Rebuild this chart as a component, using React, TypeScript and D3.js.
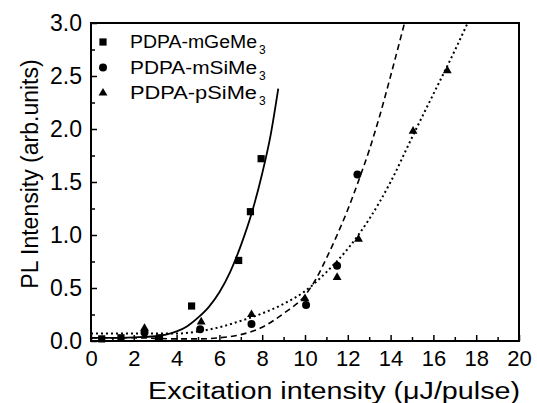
import React, { useRef, useEffect } from "react";
import * as d3 from "d3";

// measured points
const geX = [0.5, 1.4, 3.2, 4.7, 6.9, 7.45, 7.95];
const geY = [0.02, 0.03, 0.03, 0.33, 0.76, 1.22, 1.72];
const mSiX = [2.5, 5.1, 7.5, 10.05, 11.5, 12.45];
const mSiY = [0.08, 0.11, 0.16, 0.34, 0.71, 1.57];
const pSiX = [2.5, 5.15, 7.5, 10.0, 11.5, 12.5, 15.05, 16.65];
const pSiY = [0.12, 0.18, 0.25, 0.4, 0.6, 0.96, 1.98, 2.55];

// fitted curves
const fitGeX = [0, 1, 2, 3, 3.5, 4, 4.5, 5, 5.5, 6, 6.5, 7, 7.5, 8, 8.4, 8.75];
const fitGeY = [0.03, 0.03, 0.035, 0.045, 0.06, 0.09, 0.14, 0.22, 0.32, 0.46, 0.65, 0.9, 1.2, 1.58, 1.95, 2.38];
const fitMSiX = [0, 2, 4, 5, 6, 7, 8, 9, 10, 10.5, 11, 11.5, 12, 12.5, 13, 13.5, 14, 14.65];
const fitMSiY = [0.03, 0.03, 0.02, 0.02, 0.03, 0.06, 0.13, 0.26, 0.43, 0.58, 0.78, 1.0, 1.24, 1.51, 1.8, 2.13, 2.5, 3.0];
const fitPSiX = [0, 2, 4, 5, 6, 7, 8, 9, 10, 11, 12, 13, 14, 15, 16, 17, 17.6];
const fitPSiY = [0.07, 0.07, 0.07, 0.09, 0.13, 0.19, 0.26, 0.35, 0.47, 0.65, 0.87, 1.15, 1.5, 1.92, 2.33, 2.74, 3.0];

const xTicks = [0, 2, 4, 6, 8, 10, 12, 14, 16, 18, 20];
const yTicks = [0.0, 0.5, 1.0, 1.5, 2.0, 2.5, 3.0];
const legendNames = ["PDPA-mGeMe", "PDPA-mSiMe", "PDPA-pSiMe"];

function App() {
  const svgRef = useRef<SVGSVGElement>(null);

  useEffect(() => {
    const svg = d3.select(svgRef.current);
    svg.selectAll("*").remove();
    const font = "'Liberation Sans', Arial, sans-serif";

    const x = d3.scaleLinear().domain([0, 20]).range([91, 519]);
    const y = d3.scaleLinear().domain([0, 3]).range([341, 23]);

    // frame
    svg.append("rect")
      .attr("x", x(0)).attr("y", y(3))
      .attr("width", x(20) - x(0)).attr("height", y(0) - y(3))
      .attr("fill", "none").attr("stroke", "#000").attr("stroke-width", 2);

    // x axis, ticks inward
    const xAx = svg.append("g").attr("transform", `translate(0,${y(0)})`)
      .call(d3.axisBottom(x).tickValues(xTicks).tickSize(-6).tickPadding(9).tickFormat(d3.format("d")));
    xAx.select(".domain").remove();
    xAx.selectAll("line").attr("stroke-width", 1.5);
    xAx.selectAll("text").attr("font-family", font).attr("font-size", 22).attr("fill", "#000");
    svg.append("g").attr("transform", `translate(0,${y(0)})`)
      .call(d3.axisBottom(x).tickValues(d3.range(1, 20, 2)).tickSize(-4).tickFormat(() => ""))
      .call(g => g.select(".domain").remove())
      .selectAll("line").attr("stroke-width", 1.5);

    const yAx = svg.append("g").attr("transform", `translate(${x(0)},0)`)
      .call(d3.axisLeft(y).tickValues(yTicks).tickSize(-6).tickPadding(9).tickFormat(d3.format(".1f")));
    yAx.select(".domain").remove();
    yAx.selectAll("line").attr("stroke-width", 1.5);
    yAx.selectAll("text").attr("font-family", font).attr("font-size", 23).attr("fill", "#000");
    svg.append("g").attr("transform", `translate(${x(0)},0)`)
      .call(d3.axisLeft(y).tickValues(d3.range(0.25, 3, 0.5)).tickSize(-4).tickFormat(() => ""))
      .call(g => g.select(".domain").remove())
      .selectAll("line").attr("stroke-width", 1.5);

    // titles
    svg.append("text")
      .attr("x", 148).attr("y", 399)
      .attr("textLength", 372).attr("lengthAdjust", "spacingAndGlyphs")
      .attr("font-family", font).attr("font-size", 23)
      .text("Excitation intensity (\u03bcJ/pulse)");
    svg.append("text")
      .attr("transform", `translate(38,${174}) rotate(-90)`).attr("text-anchor", "middle")
      .attr("font-family", font).attr("font-size", 23)
      .text("PL Intensity (arb.units)");

    // fit curves
    const line = d3.line<[number, number]>().x(d => x(d[0])).y(d => y(d[1])).curve(d3.curveMonotoneX);
    svg.append("path").attr("d", line(d3.zip(fitGeX, fitGeY) as [number, number][]))
      .attr("fill", "none").attr("stroke", "#000").attr("stroke-width", 1.8);
    svg.append("path").attr("d", line(d3.zip(fitMSiX, fitMSiY) as [number, number][]))
      .attr("fill", "none").attr("stroke", "#000").attr("stroke-width", 1.6).attr("stroke-dasharray", "6,4");
    svg.append("path").attr("d", line(d3.zip(fitPSiX, fitPSiY) as [number, number][]))
      .attr("fill", "none").attr("stroke", "#000").attr("stroke-width", 2).attr("stroke-dasharray", "2,3");

    // markers
    const sq = d3.symbol(d3.symbolSquare, 52);
    const ci = d3.symbol(d3.symbolCircle, 50);
    const tr = d3.symbol(d3.symbolTriangle, 34);
    svg.append("g").selectAll("path").data(d3.zip(geX, geY)).join("path")
      .attr("d", sq).attr("transform", d => `translate(${x(d[0])},${y(d[1])})`);
    svg.append("g").selectAll("path").data(d3.zip(mSiX, mSiY)).join("path")
      .attr("d", ci).attr("transform", d => `translate(${x(d[0])},${y(d[1])})`);
    svg.append("g").selectAll("path").data(d3.zip(pSiX, pSiY)).join("path")
      .attr("d", tr).attr("transform", d => `translate(${x(d[0])},${y(d[1])})`);

    // legend
    const syms = [sq, ci, tr];
    const leg = svg.append("g");
    legendNames.forEach((n, i) => {
      const ly = 42 + i * 25.5;
      leg.append("path").attr("d", syms[i]).attr("transform", `translate(103,${ly})`);
      leg.append("text").attr("x", 130).attr("y", ly + 6)
        .attr("textLength", 127).attr("lengthAdjust", "spacingAndGlyphs")
        .attr("font-family", font).attr("font-size", 18).text(n);
      leg.append("text").attr("x", 259).attr("y", ly + 12)
        .attr("font-family", font).attr("font-size", 12).text("3");
    });
  }, []);

  return (
    <svg ref={svgRef} width={537} height={403}
      style={{ position: "absolute", left: 0, top: 0, background: "#fff" }} />
  );
}

export default App;
